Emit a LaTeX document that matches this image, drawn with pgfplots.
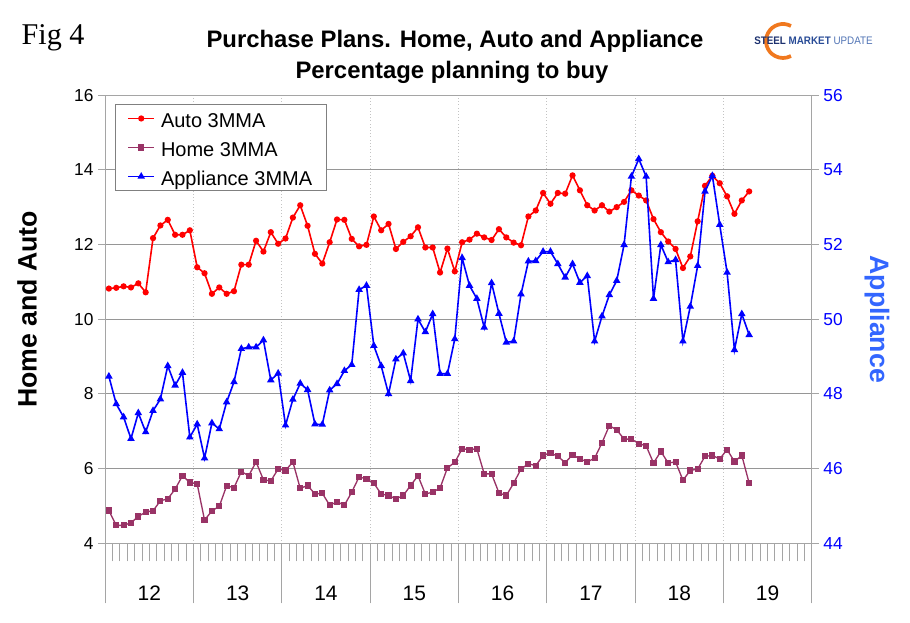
\documentclass[border=0pt]{standalone}
\usepackage{fontspec}
\setmainfont{Liberation Sans}
\newfontfamily\timesfont{Liberation Serif}
\usepackage{pgfplots}
\usepackage{pgfplotstable}
\pgfplotsset{compat=1.18}

\definecolor{autored}{RGB}{255,0,0}
\definecolor{homeplum}{RGB}{153,51,102}
\definecolor{applblue}{RGB}{0,0,255}
\definecolor{labelblue}{RGB}{51,102,255}
\definecolor{gridgray}{RGB}{150,150,150}
\definecolor{axisgray}{RGB}{165,165,165}
\definecolor{dotgray}{RGB}{195,195,195}
\definecolor{smunavy}{RGB}{28,48,110}
\definecolor{smublue}{RGB}{40,75,150}
\definecolor{smulight}{RGB}{80,115,180}
\definecolor{smuorange}{RGB}{240,120,30}

% monthly 3-month moving averages, Jan 2012 .. Apr 2019
\pgfplotstableread{
i  auto  home appl
0  10.82 4.88 48.47
1  10.84 4.48 47.73
2  10.88 4.48 47.38
3  10.85 4.55 46.80
4  10.96 4.72 47.49
5  10.72 4.84 46.98
6  12.17 4.87 47.55
7  12.51 5.14 47.86
8  12.66 5.19 48.75
9  12.26 5.45 48.23
10 12.26 5.81 48.57
11 12.38 5.63 46.84
12 11.39 5.59 47.19
13 11.23 4.62 46.28
14 10.68 4.87 47.22
15 10.85 4.99 47.06
16 10.68 5.54 47.78
17 10.75 5.49 48.32
18 11.46 5.92 49.21
19 11.46 5.81 49.25
20 12.10 6.18 49.25
21 11.81 5.70 49.44
22 12.33 5.67 48.37
23 12.02 5.99 48.55
24 12.16 5.95 47.16
25 12.72 6.18 47.85
26 13.05 5.47 48.28
27 12.50 5.55 48.11
28 11.75 5.32 47.19
29 11.49 5.34 47.18
30 12.06 5.02 48.10
31 12.67 5.11 48.27
32 12.66 5.02 48.62
33 12.15 5.37 48.78
34 11.95 5.78 50.79
35 11.99 5.72 50.90
36 12.75 5.61 49.29
37 12.38 5.32 48.75
38 12.55 5.28 48.00
39 11.88 5.19 48.93
40 12.07 5.28 49.09
41 12.22 5.55 48.35
42 12.46 5.81 50.00
43 11.92 5.32 49.66
44 11.92 5.37 50.14
45 11.25 5.48 48.54
46 11.89 6.02 48.54
47 11.28 6.17 49.47
48 12.06 6.53 51.64
49 12.13 6.51 50.90
50 12.29 6.53 50.55
51 12.19 5.86 49.78
52 12.12 5.86 50.97
53 12.41 5.35 50.15
54 12.19 5.28 49.38
55 12.05 5.61 49.41
56 11.98 5.99 50.67
57 12.75 6.13 51.55
58 12.91 6.08 51.56
59 13.38 6.35 51.81
60 13.09 6.42 51.81
61 13.38 6.33 51.48
62 13.36 6.16 51.12
63 13.85 6.37 51.48
64 13.45 6.26 50.98
65 13.05 6.18 51.16
66 12.91 6.28 49.41
67 13.05 6.69 50.08
68 12.88 7.15 50.65
69 13.00 7.04 51.03
70 13.14 6.79 51.99
71 13.45 6.79 53.82
72 13.31 6.67 54.29
73 13.18 6.61 53.82
74 12.68 6.15 50.55
75 12.33 6.46 51.99
76 12.08 6.15 51.53
77 11.88 6.18 51.59
78 11.37 5.69 49.41
79 11.68 5.95 50.34
80 12.62 5.99 51.43
81 13.57 6.33 53.42
82 13.84 6.35 53.84
83 13.64 6.26 52.53
84 13.29 6.51 51.25
85 12.82 6.19 49.18
86 13.18 6.35 50.14
87 13.42 5.61 49.58
}\datatable

\begin{document}
\begin{tikzpicture}
\path[use as bounding box] (0,0) rectangle (682.5pt,466.5pt);
\pgfplotsset{
  base/.style={
    scale only axis, width=529.9pt, height=336.2pt,
    at={(78.9pt,59pt)}, anchor=south west,
    xmin=-0.5, xmax=95.5,
    /pgf/number format/assume math mode=true,
    tick label style={font=\fontsize{13}{15}\selectfont},
    axis line style={axisgray, line width=0.75pt},
  },
}

% month / year ticks and dotted year grid
\begin{axis}[base, ymin=4, ymax=16,
  axis y line=none, axis x line*=bottom,
  tick align=outside,
  xtick={-0.5,11.5,...,95.5}, xticklabels={},
  minor xtick={-0.5,0.5,...,95.5},
  major tick length=45pt, minor tick length=13.5pt,
  tick style={axisgray, line width=0.75pt},
  xmajorgrids, major x grid style={dotgray, dotted, line width=0.6pt},
]
\end{axis}

% left axis: Auto and Home
\begin{axis}[base, ymin=4, ymax=16, ytick={4,6,...,16},
  ytick pos=left, xtick pos=bottom, tick align=outside,
  major tick length=5.25pt,
  xtick={5.5,17.5,...,89.5}, xticklabels={12,13,14,15,16,17,18,19},
  xtick style={draw=none},
  xticklabel style={font=\fontsize{15.7}{18}\selectfont, anchor=center, yshift=-32pt},
  ytick style={axisgray, line width=0.75pt},
  ymajorgrids, y grid style={gridgray, line width=0.75pt},
  ylabel={Home and Auto},
  ylabel style={at={(axis description cs:-0.1107,0.522)}, anchor=center,
    font=\bfseries\fontsize{20}{24}\selectfont},
]
\addplot[autored, line width=1.2pt, mark=*, mark size=1.7pt] table[x=i, y=auto] \datatable;
\addplot[homeplum, line width=1pt, mark=square*, mark size=1.8pt] table[x=i, y=home] \datatable;
\end{axis}

% right axis: Appliance
\begin{axis}[base, ymin=44, ymax=56, ytick={44,46,...,56},
  axis x line=none, axis y line*=right, tick align=outside,
  major tick length=5.25pt,
  ytick style={axisgray, line width=0.75pt},
  yticklabel style={applblue},
  ylabel={Appliance},
  ylabel style={at={(axis description cs:1.0924,0.5)}, anchor=center, rotate=180,
    labelblue, font=\bfseries\fontsize{20}{24}\selectfont},
  legend style={at={(0.0141,0.98)}, anchor=north west, draw=gray,
    font=\fontsize{15}{18}\selectfont, inner xsep=9pt, inner ysep=2pt,
    row sep=4.5pt, cells={anchor=west},
    nodes={inner sep=1.5pt, text height=13.75pt, text depth=0.5pt},
    /tikz/every odd column/.append style={column sep=3pt}},
  legend image code/.code={\draw[mark repeat=2, mark phase=2]
    plot coordinates {(0pt,0pt) (9.75pt,0pt) (19.5pt,0pt)};},
]
\addlegendimage{autored, line width=1.2pt, mark=*, mark size=1.7pt}
\addlegendentry{Auto 3MMA}
\addlegendimage{homeplum, line width=1pt, mark=square*, mark size=1.8pt}
\addlegendentry{Home 3MMA}
\addplot[applblue, line width=1.2pt, mark=triangle*, mark size=2.1pt] table[x=i, y=appl] \datatable;
\addlegendentry{Appliance 3MMA}
\end{axis}

% titles and logo, in pixel units from the bottom left
\begin{scope}[x=0.75pt, y=0.75pt]
\node[anchor=base west, font=\timesfont\fontsize{22.6}{26}\selectfont] at (17,577) {Fig 4};
\node[anchor=base, font=\bfseries\fontsize{17.9}{21}\selectfont] at (455,574) {Purchase Plans. Home, Auto and Appliance};
\node[anchor=base, font=\bfseries\fontsize{17.9}{21}\selectfont] at (452,543) {Percentage planning to buy};
\draw[smuorange, line width=2.8pt] (783,581) ++(62:17) arc (62:298:17);
\node[anchor=west, inner sep=0pt, xscale=0.9, font=\bfseries\fontsize{8.2}{10}\selectfont] at (754,581)
  {\textcolor{smunavy}{STEEL} \textcolor{smublue}{MARKET} \textcolor{smulight}{\mdseries UPDATE}};
\end{scope}
\end{tikzpicture}
\end{document}
